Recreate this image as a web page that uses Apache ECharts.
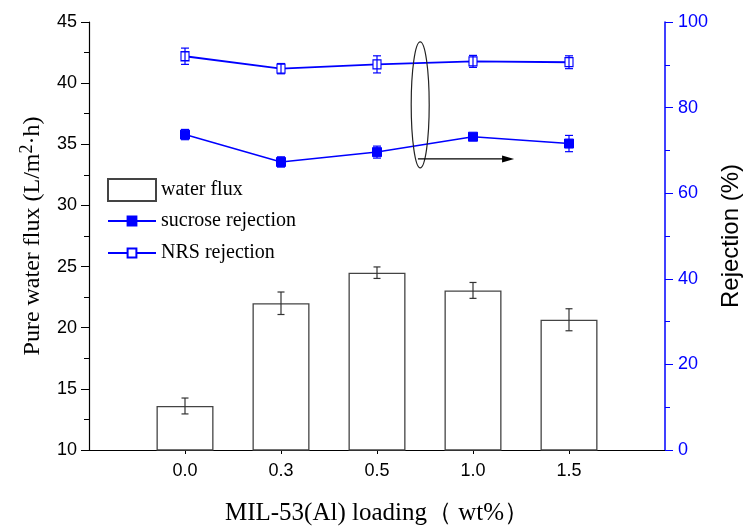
<!DOCTYPE html>
<html>
<head>
<meta charset="utf-8">
<script src="https://cdn.jsdelivr.net/npm/echarts@6/dist/echarts.min.js"></script>
<style>
  html, body { margin: 0; padding: 0; background: #fff; }
  #chart { width: 745px; height: 529px; }
</style>
</head>
<body>
<div id="chart"></div>
<script>
// MIL-53(Al) loading levels
const loadingLabels = ["0.0", "0.3", "0.5", "1.0", "1.5"];

// pure water flux (L/m2.h) and its error
const fluxValues = [13.6, 22.0, 24.5, 23.05, 20.65];
const fluxErrors = [0.65, 0.92, 0.47, 0.65, 0.9];

// rejection (%)
const sucroseValues = [73.7, 67.3, 69.6, 73.2, 71.6];
const sucroseErrors = [1.2, 1.2, 1.4, 0.5, 1.9];
const nrsValues = [92.0, 89.1, 90.1, 90.8, 90.6];
const nrsErrors = [1.9, 1.2, 2.0, 1.4, 1.5];

// annotation: ellipse around the right-hand point group, arrow to right axis
const ellipseCenter = [2.45, 80.65];
const arrowFrom = [2.426, 68.0];
const arrowTo = [3.428, 68.0];

const BLUE = "#0000ff";
const SERIF = "'Liberation Serif', 'Times New Roman', serif";
const SANS = "'Liberation Sans', Arial, sans-serif";

const chart = echarts.init(document.getElementById("chart"));

function pairs(values) {
  return values.map((v, i) => [i, v]);
}

function errorData(values, errors) {
  return values.map((v, i) => [i, v - errors[i], v + errors[i]]);
}

function errorSeries(name, values, errors, yAxisIndex, color, cap, z) {
  return {
    name: name,
    type: "custom",
    xAxisIndex: 0,
    yAxisIndex: yAxisIndex,
    z: z,
    silent: true,
    data: errorData(values, errors),
    renderItem: (params, api) => {
      const low = api.coord([api.value(0), api.value(1)]);
      const high = api.coord([api.value(0), api.value(2)]);
      const style = { stroke: color, lineWidth: 1.2 };
      return {
        type: "group",
        children: [
          { type: "line", shape: { x1: low[0], y1: low[1], x2: high[0], y2: high[1] }, style },
          { type: "line", shape: { x1: low[0] - cap, y1: low[1], x2: low[0] + cap, y2: low[1] }, style },
          { type: "line", shape: { x1: high[0] - cap, y1: high[1], x2: high[0] + cap, y2: high[1] }, style },
        ],
      };
    },
  };
}

const legendText = { fontFamily: SERIF, fontSize: 20, color: "#000" };

chart.setOption({
  backgroundColor: "#fff",
  animation: false,
  grid: { left: 89, right: 80, top: 22, bottom: 79, containLabel: false, outerBoundsMode: "none" },
  legend: [
    {
      orient: "vertical",
      left: 107,
      top: 178,
      padding: 0,
      itemWidth: 48,
      itemHeight: 22,
      textStyle: legendText,
      data: [{ name: "water flux", icon: "rect" }],
    },
    {
      orient: "vertical",
      left: 107,
      top: 211,
      padding: 0,
      itemWidth: 48,
      itemHeight: 11,
      itemGap: 12,
      textStyle: legendText,
      data: ["sucrose rejection", "NRS rejection"],
    },
  ],
  xAxis: {
    type: "value",
    min: -1,
    max: 5,
    interval: 1,
    name: "MIL-53(Al) loading（ wt%）",
    nameLocation: "middle",
    nameGap: 51,
    nameTextStyle: { fontFamily: SERIF, fontSize: 25, color: "#000" },
    axisLine: { onZero: false, lineStyle: { color: "#000", width: 1.2 } },
    axisTick: { customValues: [0, 1, 2, 3, 4], length: 4, lineStyle: { color: "#000" } },
    axisLabel: {
      customValues: [0, 1, 2, 3, 4],
      formatter: (v) => loadingLabels[v] ?? "",
      margin: 12,
      fontFamily: SANS,
      fontSize: 18,
      color: "#000",
    },
    splitLine: { show: false },
  },
  yAxis: [
    {
      type: "value",
      min: 10,
      max: 45,
      interval: 5,
      position: "left",
      name: "Pure water flux (L/m{sup|2}·h)",
      nameLocation: "middle",
      nameGap: 41,
      nameRotate: 90,
      nameTextStyle: {
        fontFamily: SERIF,
        fontSize: 24,
        color: "#000",
        rich: {
          sup: { fontFamily: SERIF, fontSize: 18, color: "#000", verticalAlign: "top", padding: [0, 0, 12, 0] },
        },
      },
      axisLine: { show: true, onZero: false, lineStyle: { color: "#000", width: 1.2 } },
      axisTick: { show: true, inside: false, length: 8, lineStyle: { color: "#000" } },
      minorTick: { show: true, splitNumber: 2, length: 5, lineStyle: { color: "#000" } },
      axisLabel: { margin: 12, fontFamily: SANS, fontSize: 18, color: "#000" },
      splitLine: { show: false },
    },
    {
      type: "value",
      min: 0,
      max: 100,
      interval: 20,
      position: "right",
      name: "Rejection (%)",
      nameLocation: "middle",
      nameGap: 54,
      nameRotate: 90,
      nameTextStyle: { fontFamily: SANS, fontSize: 24, color: "#000" },
      axisLine: { show: true, onZero: false, lineStyle: { color: BLUE, width: 1.5 } },
      axisTick: { show: true, inside: false, length: 8, lineStyle: { color: BLUE } },
      minorTick: { show: true, splitNumber: 2, length: 5, lineStyle: { color: BLUE } },
      axisLabel: { margin: 13, fontFamily: SANS, fontSize: 18, color: BLUE },
      splitLine: { show: false },
    },
  ],
  series: [
    {
      name: "water flux",
      type: "bar",
      yAxisIndex: 0,
      barWidth: 57,
      z: 2,
      itemStyle: { color: "#fff", borderColor: "#444", borderWidth: 1.3 },
      data: pairs(fluxValues),
    },
    errorSeries("flux error", fluxValues, fluxErrors, 0, "#333", 3.5, 3),
    {
      name: "sucrose rejection",
      type: "line",
      yAxisIndex: 1,
      z: 4,
      symbol: "rect",
      symbolSize: 9,
      showAllSymbol: true,
      lineStyle: { color: BLUE, width: 1.5 },
      itemStyle: { color: BLUE, borderColor: BLUE, borderWidth: 1 },
      data: pairs(sucroseValues),
    },
    {
      name: "NRS rejection",
      type: "line",
      yAxisIndex: 1,
      z: 4,
      symbol: "rect",
      symbolSize: [8, 9],
      showAllSymbol: true,
      lineStyle: { color: BLUE, width: 1.8 },
      itemStyle: { color: "#fff", borderColor: BLUE, borderWidth: 1.2 },
      data: pairs(nrsValues),
    },
    errorSeries("sucrose error", sucroseValues, sucroseErrors, 1, BLUE, 4, 5),
    errorSeries("nrs error", nrsValues, nrsErrors, 1, BLUE, 4, 5),
  ],
});

function drawAnnotation() {
  const finder = { xAxisIndex: 0, yAxisIndex: 1 };
  const c = chart.convertToPixel(finder, ellipseCenter);
  const a = chart.convertToPixel(finder, arrowFrom);
  const b = chart.convertToPixel(finder, arrowTo);
  chart.setOption({
    graphic: [
      {
        type: "ellipse",
        shape: { cx: c[0], cy: c[1], rx: 9, ry: 63 },
        style: { fill: "none", stroke: "#222", lineWidth: 1.2 },
        z: 10,
      },
      {
        type: "line",
        shape: { x1: a[0], y1: a[1], x2: b[0] - 10, y2: b[1] },
        style: { stroke: "#000", lineWidth: 1.2 },
        z: 10,
      },
      {
        type: "polygon",
        shape: { points: [[b[0], b[1]], [b[0] - 12, b[1] - 3.5], [b[0] - 12, b[1] + 3.5]] },
        style: { fill: "#000" },
        z: 10,
      },
    ],
  });
}

drawAnnotation();
</script>
</body>
</html>
